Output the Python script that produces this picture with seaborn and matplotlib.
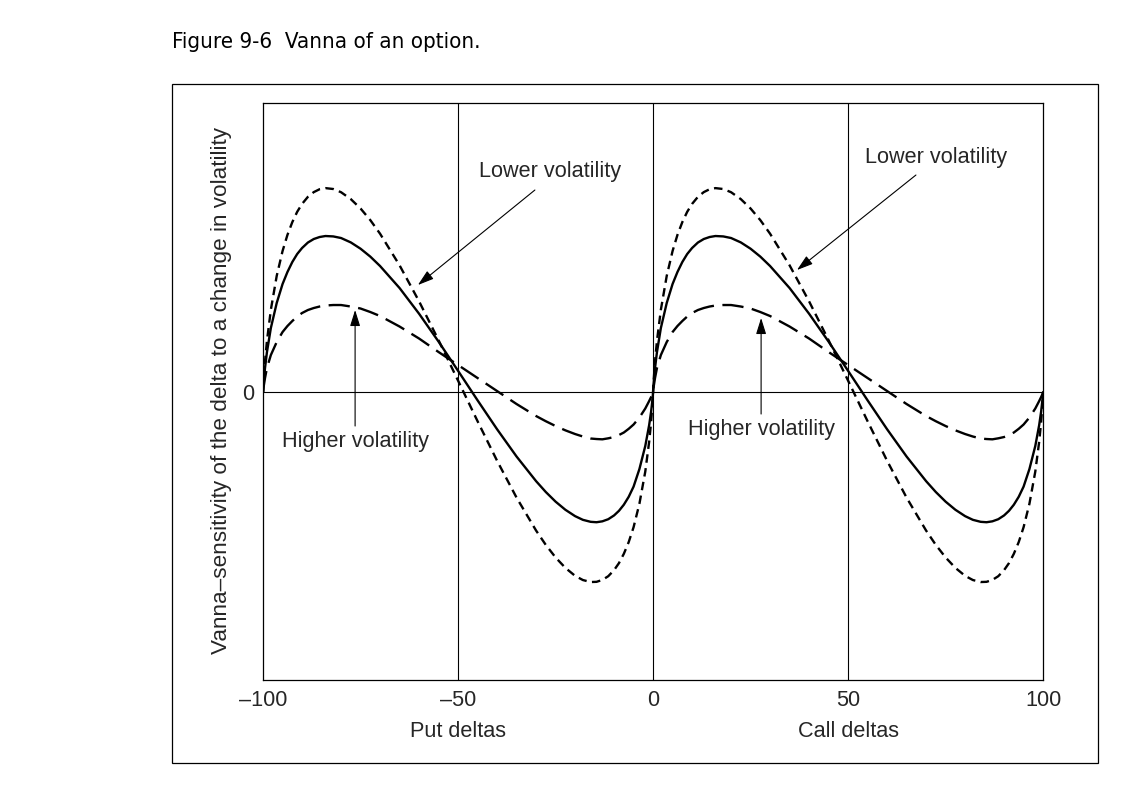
import numpy as np
import pandas as pd
import matplotlib
matplotlib.use('Agg')
import matplotlib.pyplot as plt
import seaborn as sns
from matplotlib.patches import Rectangle

# option delta (puts negative, calls positive)
deltas = [-100, -99.9, -99.5, -99, -98, -96.5, -95, -93.75, -92.5, -91.25, -90, -88.5, -87,
          -85.5, -84, -82, -80, -77.5, -75, -72.5, -70, -65, -60, -55, -50, -45, -40, -35,
          -30, -27.5, -25, -22.5, -20, -18, -16, -14.5, -13, -11.5, -10, -8.75, -7.5, -6.25,
          -5, -3.5, -2, -1, -0.5, -0.1, 0,
          0.1, 0.5, 1, 2, 3.5, 5, 6.25, 7.5, 8.75, 10, 11.5, 13, 14.5, 16, 18, 20, 22.5, 25,
          27.5, 30, 35, 40, 45, 50, 55, 60, 65, 70, 72.5, 75, 77.5, 80, 82, 84, 85.5, 87,
          88.5, 90, 91.25, 92.5, 93.75, 95, 96.5, 98, 99, 99.5, 99.9, 100]

# vanna (arbitrary units, 0 = axis line)
vanna_mid = [0, 6.5, 24, 40, 64, 89, 108, 120, 130, 138, 144, 149.5, 153, 155, 156, 155.6,
             154, 149.6, 143.3, 135.4, 126, 104, 78.3, 50.4, 21.2, -8.3, -37.2, -64.5, -89.1,
             -100, -109.6, -117.7, -124.1, -127.8, -129.8, -130.2, -129.3, -127.2, -123.4,
             -118.8, -112.7, -104.8, -94.6, -77, -54, -33, -19.5, -5.5, 0,
             6.5, 24, 40, 64, 89, 108, 120, 130, 138, 144, 149.5, 153, 155, 156, 155.6,
             154, 149.6, 143.3, 135.4, 126, 104, 78.3, 50.4, 21.2, -8.3, -37.2, -64.5, -89.1,
             -100, -109.6, -117.7, -124.1, -127.8, -129.8, -130.2, -129.3, -127.2, -123.4,
             -118.8, -112.7, -104.8, -94.6, -77, -54, -33, -19.5, -5.5, 0]

vanna_low_vol = [0, 8.6, 30.7, 51.2, 82.3, 116.1, 141, 157.1, 169.9, 180.2, 188.1, 195.2,
                 199.9, 202.8, 203.9, 203, 199.8, 192.9, 183.5, 171.9, 158.3, 126.7, 90.7,
                 51.8, 11.4, -29.2, -68.7, -105.6, -138.5, -152.9, -165.4, -175.8, -183.8,
                 -188, -190, -189.8, -187.9, -184.2, -178.1, -171.1, -161.8, -150.1, -135.2,
                 -111.7, -79.6, -49.7, -29.9, -8.4, 0,
                 8.6, 30.7, 51.2, 82.3, 116.1, 141, 157.1, 169.9, 180.2, 188.1, 195.2,
                 199.9, 202.8, 203.9, 203, 199.8, 192.9, 183.5, 171.9, 158.3, 126.7, 90.7,
                 51.8, 11.4, -29.2, -68.7, -105.6, -138.5, -152.9, -165.4, -175.8, -183.8,
                 -188, -190, -189.8, -187.9, -184.2, -178.1, -171.1, -161.8, -150.1, -135.2,
                 -111.7, -79.6, -49.7, -29.9, -8.4, 0]

vanna_high_vol = [0, 4, 14, 24, 37, 50, 60, 66, 71, 75.5, 79, 82, 84, 85.5, 86.5, 87, 87,
                  85.5, 83.5, 80, 76, 65.5, 53.5, 40, 27, 14, 1, -12, -24, -29.2, -34, -38.3,
                  -42, -44.5, -46.5, -47, -47.3, -46.3, -45, -43, -40.5, -36.8, -32.5, -25.5,
                  -16.5, -9, -5, -1.5, 0,
                  4, 14, 24, 37, 50, 60, 66, 71, 75.5, 79, 82, 84, 85.5, 86.5, 87, 87,
                  85.5, 83.5, 80, 76, 65.5, 53.5, 40, 27, 14, 1, -12, -24, -29.2, -34, -38.3,
                  -42, -44.5, -46.5, -47, -47.3, -46.3, -45, -43, -40.5, -36.8, -32.5, -25.5,
                  -16.5, -9, -5, -1.5, 0]

df = pd.DataFrame({
    'delta': deltas * 3,
    'vanna': vanna_mid + vanna_low_vol + vanna_high_vol,
    'curve': ['mid'] * len(deltas) + ['low'] * len(deltas) + ['high'] * len(deltas),
})

sns.set_style('white')
plt.rcParams['font.family'] = ['Liberation Sans', 'DejaVu Sans']
fs = 15.6

fig = plt.figure(figsize=(11.29, 7.90), dpi=100)
ax = fig.add_axes([0.2330, 0.1392, 0.6909, 0.7304])

sns.lineplot(data=df, x='delta', y='vanna', style='curve',
             dashes={'mid': '', 'low': (3.6, 2.3), 'high': (9, 3.6)},
             color='black', linewidth=1.7, legend=False, estimator=None,
             sort=False, ax=ax)

for x in [-50, 0, 50]:
    ax.axvline(x, color='black', lw=0.8, zorder=1)
ax.axhline(0, color='black', lw=0.8, zorder=1)

ax.set_xlim(-100, 100)
ax.set_ylim(-288, 289)
ax.set_xticks([-100, -50, 0, 50, 100])
ax.set_xticklabels(['\u2013100', '\u201350', '0', '50', '100'])
ax.set_yticks([0])
ax.set_yticklabels(['0'])
ax.tick_params(axis='both', length=0, labelsize=fs)
ax.tick_params(axis='x', pad=7)
ax.tick_params(axis='y', pad=6)
ax.set_xlabel('')
ax.set_ylabel('')
for sp in ax.spines.values():
    sp.set_visible(True)
    sp.set_color('black')
    sp.set_linewidth(0.9)

# axis captions
ax.text(-50, -0.09, 'Put deltas', transform=ax.get_xaxis_transform(),
        ha='center', va='center', fontsize=fs)
ax.text(50, -0.09, 'Call deltas', transform=ax.get_xaxis_transform(),
        ha='center', va='center', fontsize=fs)
fig.text(222 / 1129, 1 - 391 / 790,
         'Vanna\u2013sensitivity of the delta to a change in volatility',
         rotation=90, ha='center', va='center', fontsize=16.2)

# annotations
arrow = dict(arrowstyle='-|>,head_length=0.7,head_width=0.22', color='black', lw=0.8,
             mutation_scale=14, shrinkA=0, shrinkB=0)
ax.annotate('', xy=(-60.3, 107), xytext=(-30.3, 202), arrowprops=arrow)
ax.text(-26.4, 221, 'Lower volatility', ha='center', va='center', fontsize=fs)
ax.annotate('', xy=(36.9, 122), xytext=(67.4, 217), arrowprops=arrow)
ax.text(72.6, 235, 'Lower volatility', ha='center', va='center', fontsize=fs)
ax.annotate('', xy=(-76.4, 82), xytext=(-76.4, -34), arrowprops=arrow)
ax.text(-76.4, -49, 'Higher volatility', ha='center', va='center', fontsize=fs)
ax.annotate('', xy=(27.7, 74), xytext=(27.7, -22), arrowprops=arrow)
ax.text(27.7, -37, 'Higher volatility', ha='center', va='center', fontsize=fs)

# outer frame and caption
fig.add_artist(Rectangle((172 / 1129, 1 - 763 / 790), (1098 - 172) / 1129, (763 - 84) / 790,
                         transform=fig.transFigure, fill=False, ec='black', lw=0.9))
fig.text(172 / 1129, 1 - 42 / 790, 'Figure 9-6  Vanna of an option.',
         ha='left', va='center', fontsize=16, fontstretch='condensed',
         family=['DejaVu Sans'], color='black')

fig.savefig('out.png', dpi=100, facecolor='white')
